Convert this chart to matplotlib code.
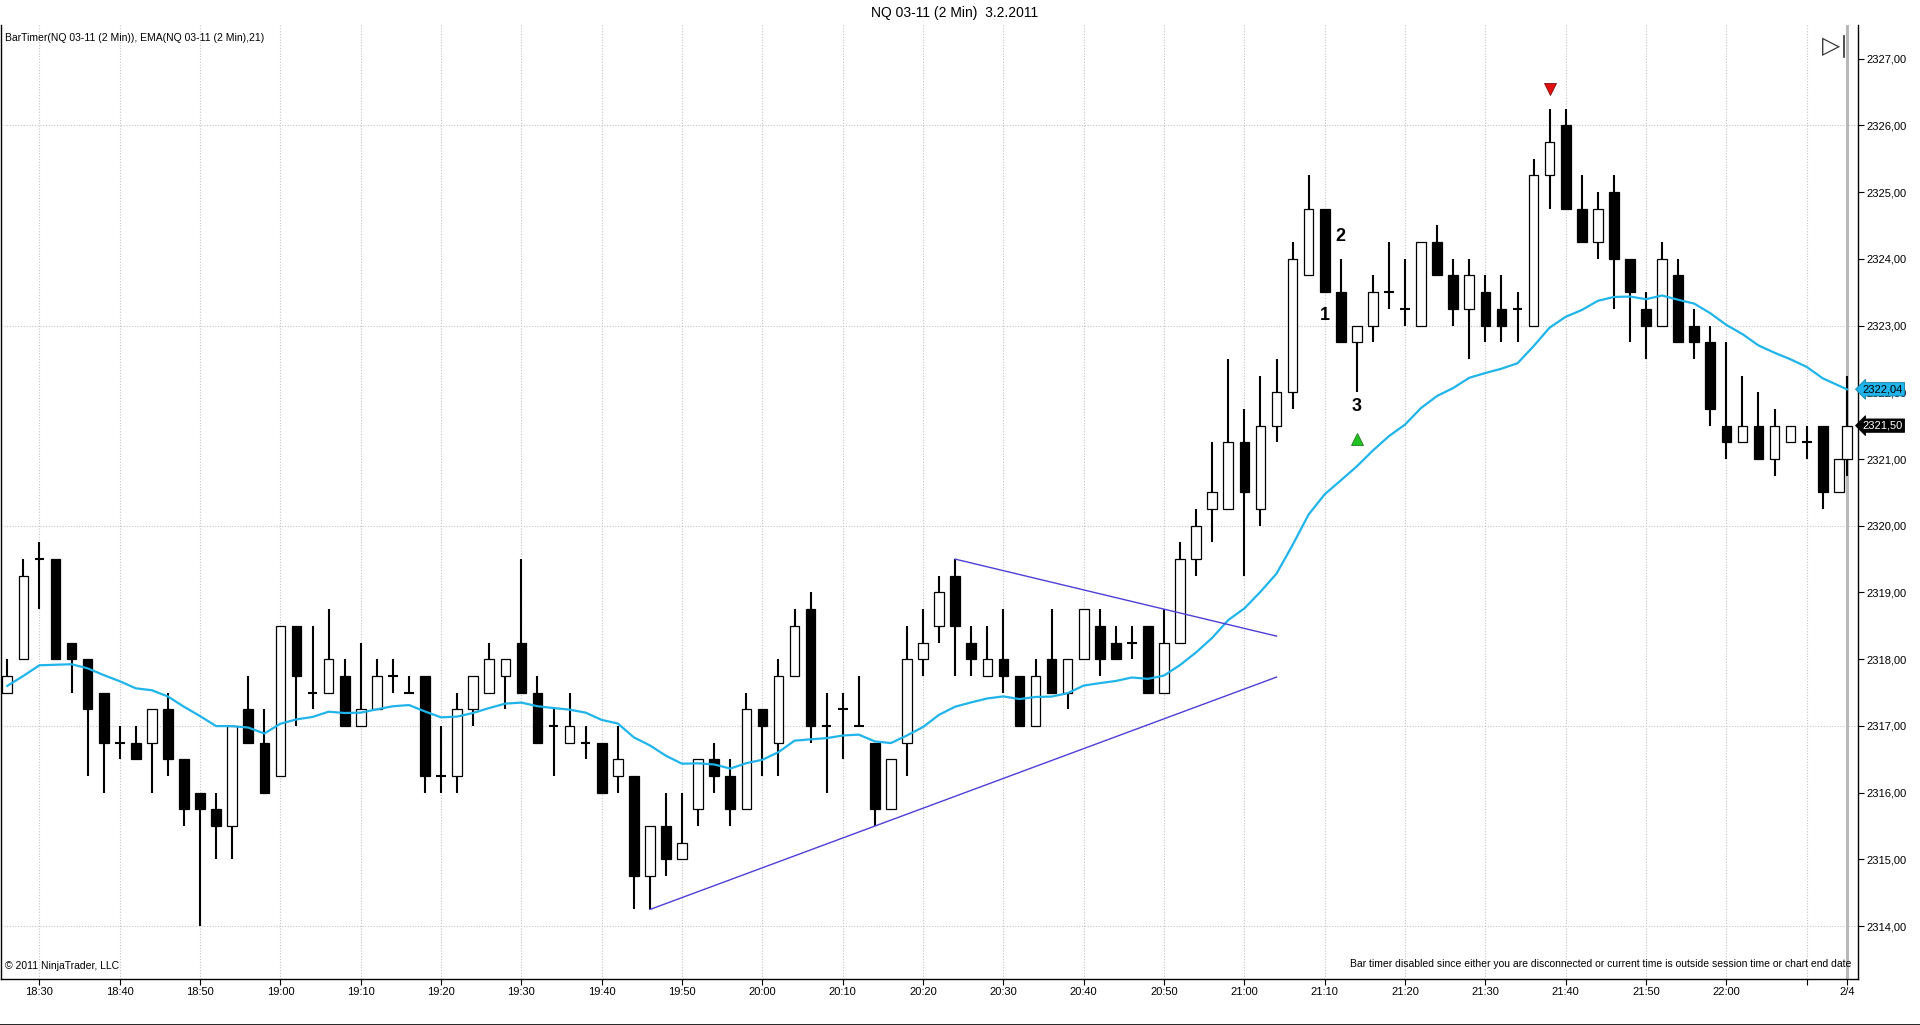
import matplotlib
matplotlib.use("Agg")
import matplotlib.pyplot as plt
import matplotlib.transforms as mtransforms
import numpy as np

plt.rcParams['font.family'] = ['Liberation Sans', 'DejaVu Sans']

# NQ 03-11, 2 min bars, 3.2.2011 (first bar closes 18:26, last partial bar 22:15)
first_bar = "18:26"
bar_minutes = 2
last_bar = "22:15"

opens = [2317.5, 2318.0, 2319.5, 2319.5, 2318.25, 2318.0, 2317.5, 2316.75, 2316.75, 2316.75,
         2317.25, 2316.5, 2316.0, 2315.75, 2315.5, 2317.25, 2316.75, 2316.25, 2318.5, 2317.5,
         2317.5, 2317.75, 2317.0, 2317.25, 2317.75, 2317.5, 2317.75, 2316.25, 2316.25, 2317.25,
         2317.5, 2317.75, 2318.25, 2317.5, 2317.0, 2316.75, 2316.75, 2316.75, 2316.25, 2316.25,
         2314.75, 2315.5, 2315.0, 2315.75, 2316.5, 2316.25, 2315.75, 2317.25, 2316.75, 2317.75,
         2318.75, 2317.0, 2317.25, 2317.0, 2316.75, 2315.75, 2316.75, 2318.0, 2318.5, 2319.25,
         2318.25, 2317.75, 2318.0, 2317.75, 2317.0, 2318.0, 2317.5, 2318.0, 2318.5, 2318.25,
         2318.25, 2318.5, 2317.5, 2318.25, 2319.5, 2320.25, 2320.25, 2321.25, 2320.25, 2321.5,
         2322.0, 2323.75, 2324.75, 2323.5, 2322.75, 2323.0, 2323.5, 2323.25, 2323.0, 2324.25,
         2323.75, 2323.25, 2323.5, 2323.25, 2323.25, 2323.0, 2325.25, 2326.0, 2324.75, 2324.25,
         2325.0, 2324.0, 2323.25, 2323.0, 2323.75, 2323.0, 2322.75, 2321.5, 2321.25, 2321.5,
         2321.0, 2321.25, 2321.25, 2321.5, 2320.5, 2321.0]
highs = [2318.0, 2319.5, 2319.75, 2319.5, 2318.25, 2318.0, 2317.5, 2317.0, 2317.0, 2317.25,
         2317.5, 2316.5, 2316.0, 2316.0, 2317.0, 2317.75, 2317.25, 2318.5, 2318.5, 2318.5,
         2318.75, 2318.0, 2318.25, 2318.0, 2318.0, 2317.75, 2317.75, 2317.0, 2317.5, 2317.75,
         2318.25, 2318.0, 2319.5, 2317.75, 2317.25, 2317.5, 2317.0, 2316.75, 2317.0, 2316.25,
         2315.5, 2316.0, 2316.0, 2316.5, 2316.75, 2316.5, 2317.5, 2317.25, 2318.0, 2318.75,
         2319.0, 2317.5, 2317.5, 2317.75, 2316.75, 2316.5, 2318.5, 2318.75, 2319.25, 2319.5,
         2318.5, 2318.5, 2318.75, 2317.75, 2318.0, 2318.75, 2318.0, 2318.75, 2318.75, 2318.5,
         2318.5, 2318.5, 2318.75, 2319.75, 2320.25, 2321.25, 2322.5, 2321.75, 2322.25, 2322.5,
         2324.25, 2325.25, 2324.75, 2324.0, 2323.0, 2323.75, 2324.25, 2324.0, 2324.25, 2324.5,
         2324.0, 2324.0, 2323.75, 2323.75, 2323.5, 2325.5, 2326.25, 2326.25, 2325.25, 2325.0,
         2325.25, 2324.0, 2323.5, 2324.25, 2324.0, 2323.25, 2323.0, 2322.75, 2322.25, 2322.0,
         2321.75, 2321.5, 2321.5, 2321.5, 2321.0, 2322.25]
lows = [2317.5, 2318.0, 2318.75, 2318.0, 2317.5, 2316.25, 2316.0, 2316.5, 2316.5, 2316.0,
        2316.25, 2315.5, 2314.0, 2315.0, 2315.0, 2316.75, 2316.0, 2316.25, 2317.0, 2317.25,
        2317.5, 2317.0, 2317.0, 2317.25, 2317.5, 2317.5, 2316.0, 2316.0, 2316.0, 2317.0,
        2317.5, 2317.25, 2317.5, 2316.75, 2316.25, 2316.75, 2316.5, 2316.0, 2316.0, 2314.25,
        2314.25, 2314.75, 2315.0, 2315.5, 2316.0, 2315.5, 2315.75, 2316.25, 2316.25, 2317.75,
        2316.75, 2316.0, 2316.5, 2317.0, 2315.5, 2315.75, 2316.25, 2317.75, 2318.25, 2317.75,
        2317.75, 2317.75, 2317.5, 2317.0, 2317.0, 2317.5, 2317.25, 2318.0, 2317.75, 2318.0,
        2318.0, 2317.5, 2317.5, 2318.25, 2319.25, 2319.75, 2320.25, 2319.25, 2320.0, 2321.25,
        2321.75, 2323.75, 2323.5, 2322.75, 2322.0, 2322.75, 2323.25, 2323.0, 2323.0, 2323.75,
        2323.0, 2322.5, 2322.75, 2322.75, 2322.75, 2323.0, 2324.75, 2324.75, 2324.25, 2324.0,
        2323.25, 2322.75, 2322.5, 2323.0, 2322.75, 2322.5, 2321.5, 2321.0, 2321.25, 2321.0,
        2320.75, 2321.25, 2321.0, 2320.25, 2320.5, 2320.75]
closes = [2317.75, 2319.25, 2319.5, 2318.0, 2318.0, 2317.25, 2316.75, 2316.75, 2316.5, 2317.25,
          2316.5, 2315.75, 2315.75, 2315.5, 2317.0, 2316.75, 2316.0, 2318.5, 2317.75, 2317.5,
          2318.0, 2317.0, 2317.25, 2317.75, 2317.75, 2317.5, 2316.25, 2316.25, 2317.25, 2317.75,
          2318.0, 2318.0, 2317.5, 2316.75, 2317.0, 2317.0, 2316.75, 2316.0, 2316.5, 2314.75,
          2315.5, 2315.0, 2315.25, 2316.5, 2316.25, 2315.75, 2317.25, 2317.0, 2317.75, 2318.5,
          2317.0, 2317.0, 2317.25, 2317.0, 2315.75, 2316.5, 2318.0, 2318.25, 2319.0, 2318.5,
          2318.0, 2318.0, 2317.75, 2317.0, 2317.75, 2317.5, 2318.0, 2318.75, 2318.0, 2318.0,
          2318.25, 2317.5, 2318.25, 2319.5, 2320.0, 2320.5, 2321.25, 2320.5, 2321.5, 2322.0,
          2324.0, 2324.75, 2323.5, 2322.75, 2323.0, 2323.5, 2323.5, 2323.25, 2324.25, 2323.75,
          2323.25, 2323.75, 2323.0, 2323.0, 2323.25, 2325.25, 2325.75, 2324.75, 2324.25, 2324.75,
          2324.0, 2323.5, 2323.0, 2324.0, 2322.75, 2322.75, 2321.75, 2321.25, 2321.5, 2321.0,
          2321.5, 2321.5, 2321.25, 2320.5, 2321.0, 2321.5]

ema_period = 21
ema_first = 2317.6          # EMA value on the first visible bar

# hand drawn trend lines: (bar, price) anchor pairs, both extended to bar 79
lower_line = [(40, 2314.25), (54, 2315.5)]
upper_line = [(59, 2319.5), (72, 2318.75)]
line_end_bar = 79

# annotations and signal arrows
note_texts = ["1", "2", "3"]
note_bars = [82, 83, 84]
note_prices = [2323.15, 2324.33, 2321.78]
long_bar, long_price = 84, 2321.30
short_bar, short_price = 96, 2326.55

time_labels = ["18:30", "18:40", "18:50", "19:00", "19:10", "19:20", "19:30", "19:40",
               "19:50", "20:00", "20:10", "20:20", "20:30", "20:40", "20:50", "21:00",
               "21:10", "21:20", "21:30", "21:40", "21:50", "22:00", "22:10"]
session_end_label = "2/4"
price_ticks = list(range(2314, 2328))


def to_min(s):
    h, m = s.split(":")
    return int(h) * 60 + int(m)


n = len(closes)
t0 = to_min(first_bar)
x = np.array([t0 + bar_minutes * i for i in range(n - 1)] + [to_min(last_bar)], dtype=float)
o = np.array(opens)
h = np.array(highs)
l = np.array(lows)
c = np.array(closes)

ema = np.zeros(n)
ema[0] = ema_first
k = 2.0 / (ema_period + 1)
for i in range(1, n):
    ema[i] = ema[i - 1] + k * (c[i] - ema[i - 1])

W, H = 1920, 1025
fig = plt.figure(figsize=(W / 100, H / 100), dpi=100)
fig.patch.set_facecolor("white")
ax = fig.add_axes([1 / W, 1 - 979.3 / H, (1858 - 1) / W, (979.3 - 25) / H])

px_per_min = 16.066 / bar_minutes
ax.set_xlim(t0 - 6.3 / px_per_min, t0 + 1850.7 / px_per_min)
ax.set_ylim(2313.204, 2327.503)

# grid
grid_kw = dict(color="#c4c4c4", lw=0.8, ls=(0, (1, 1.5)), zorder=1)
for lab in time_labels:
    ax.axvline(to_min(lab), **grid_kw)
for p in price_ticks:
    if (p - 2314) % 3 == 0:
        ax.axhline(p, **grid_kw)
ax.axvline(to_min(last_bar), color="#b9b9b9", lw=2.2, zorder=1)

# candles
body_w = 1.2
ax.vlines(x, l, h, color="black", lw=1.5, zorder=2)
doji = o == c
up = c > o
dn = c < o
ax.bar(x[up], (c - o)[up], bottom=o[up], width=body_w, facecolor="white",
       edgecolor="black", linewidth=0.9, zorder=3)
ax.bar(x[dn], (o - c)[dn], bottom=c[dn], width=body_w, facecolor="black",
       edgecolor="black", linewidth=0.9, zorder=3)
ax.hlines(c[doji], x[doji] - body_w / 2, x[doji] + body_w / 2, color="black", lw=1.5, zorder=3)

ax.plot(x, ema, color="#1fb4ea", lw=1.6, zorder=4)


def extend(pts, end_bar):
    (b0, p0), (b1, p1) = pts
    slope = (p1 - p0) / (b1 - b0)
    return [x[b0], x[end_bar]], [p0, p0 + slope * (end_bar - b0)]


for pts in (lower_line, upper_line):
    xs, ys = extend(pts, line_end_bar)
    ax.plot(xs, ys, color="#4d3fd6", lw=1.0, zorder=4)

for txt, b, p in zip(note_texts, note_bars, note_prices):
    ax.text(x[b], p, txt, ha="center", va="center", fontsize=13, fontweight="bold", zorder=5)
ax.plot(x[long_bar], long_price, marker="^", ms=8, color="#22c422", mec="#1a7a1a", mew=0.6, zorder=5)
ax.plot(x[short_bar], short_price, marker="v", ms=8, color="#e01010", mec="#801010", mew=0.6, zorder=5)

# axes
for side in ("left", "bottom", "right"):
    ax.spines[side].set_color("black")
    ax.spines[side].set_linewidth(1.0)
ax.spines["top"].set_visible(False)

ax.yaxis.tick_right()
ax.set_yticks(price_ticks)
ax.set_yticklabels([f"{p:.2f}".replace(".", ",") for p in price_ticks])
ax.tick_params(axis="y", length=4.3, width=0.8, pad=1.5, labelsize=8)

xt = [to_min(s) for s in time_labels] + [to_min(last_bar)]
xl = [s if s != "22:10" else "" for s in time_labels] + [session_end_label]
ax.set_xticks(xt)
ax.set_xticklabels(xl)
ax.tick_params(axis="x", length=4.3, width=0.8, pad=1.5, labelsize=8)

# right side price markers (they sit on top of the price scale, as in the platform)
trans = mtransforms.blended_transform_factory(ax.transAxes, ax.transData)
ax.text(1.0025, ema[-1], f"{ema[-1]:.2f}".replace(".", ","), transform=trans, fontsize=8,
        ha="left", va="center", color="black", zorder=6,
        bbox=dict(boxstyle="larrow,pad=0.15", fc="#1fb4ea", ec="#0f7fa8", lw=0.6))
ax.text(1.0025, c[-1], f"{c[-1]:.2f}".replace(".", ","), transform=trans, fontsize=8,
        ha="left", va="center", color="white", zorder=6,
        bbox=dict(boxstyle="larrow,pad=0.15", fc="black", ec="black", lw=0.6))

# texts
fig.text(955 / W, 1 - 13 / H, "NQ 03-11 (2 Min)  3.2.2011", ha="center", va="center", fontsize=10)
ax.text(0.002, 0.986, "BarTimer(NQ 03-11 (2 Min)), EMA(NQ 03-11 (2 Min),21)",
        transform=ax.transAxes, ha="left", va="center", fontsize=7.5)
ax.text(0.002, 0.009, "\u00a9 2011 NinjaTrader, LLC", transform=ax.transAxes,
        ha="left", va="bottom", fontsize=7.5)
ax.text(0.9965, 0.011, "Bar timer disabled since either you are disconnected or current time "
        "is outside session time or chart end date", transform=ax.transAxes,
        ha="right", va="bottom", fontsize=7.5)
ax.text(0.9855, 0.977, "\u25b7", transform=ax.transAxes, ha="center", va="center",
        fontsize=17, color="#333333")
ax.plot([0.9925, 0.9925], [0.966, 0.988], transform=ax.transAxes, color="#333333", lw=1.2,
        clip_on=False)

fig.add_artist(plt.Line2D([0, 1], [0.5 / H, 0.5 / H], color="black", lw=1.2))

fig.savefig("out.png", dpi=100, facecolor="white")
